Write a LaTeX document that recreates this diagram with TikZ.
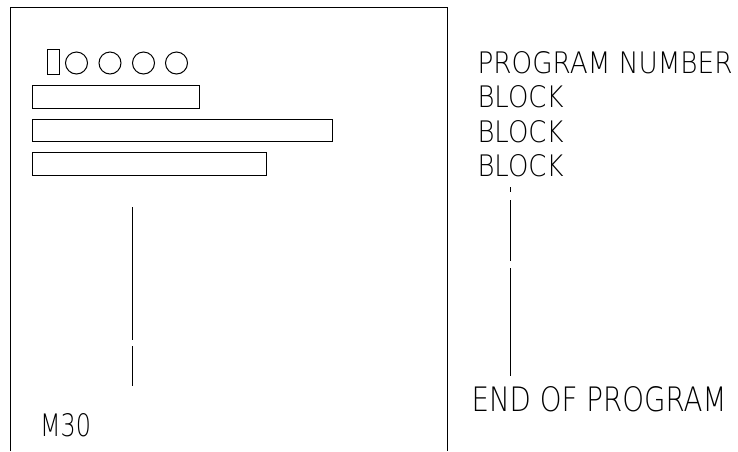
\documentclass[tikz,border=0pt]{standalone}
\usepackage{fontspec}
\newfontfamily\cad{DejaVu Sans ExtraLight}
\begin{document}
\begin{tikzpicture}[x=1pt,y=-1pt,line width=1pt,
  bar/.style={draw,rectangle,inner sep=0,anchor=north west},
  hole/.style={draw,circle,inner sep=0,minimum size=22pt},
  lbl/.style={inner sep=0,anchor=south west},
  seg/.style={line width=1pt}]
\useasboundingbox (0,0) rectangle (738,451);
% frame (open at the bottom)
\draw (10.5,451) -- (10.5,7.5) -- (447.5,7.5) -- (447.5,451);
% punched tape / program sheet
\node[bar,minimum width=12.5pt,minimum height=25pt] (tag) at (46.5,49) {};
\node[hole] (h1) at (76.5,63) {};
\node[hole] (h2) at (110,63) {};
\node[hole] (h3) at (143.5,63) {};
\node[hole] (h4) at (176.5,63) {};
\node[bar,minimum width=167pt,minimum height=23pt] (b1) at (31.5,85) {};
\node[bar,minimum width=300pt,minimum height=22pt] (b2) at (31.5,119) {};
\node[bar,minimum width=234pt,minimum height=22.5pt] (b3) at (31.5,152) {};
\coordinate (l1a) at (132,207); \coordinate (l1b) at (132,339.5);
\coordinate (l2a) at (132,346); \coordinate (l2b) at (132,386);
\draw[seg] (l1a) -- (l1b);
\draw[seg] (l2a) -- (l2b);
\node[lbl] (m30) at (39.5,437) {\resizebox{51pt}{23pt}{\cad M30}};
% right-hand legend
\node[lbl] (pn) at (477,74) {\resizebox{255pt}{22pt}{\cad PROGRAM NUMBER}};
\node[lbl] (bk1) at (477,108.5) {\resizebox{86pt}{22pt}{\cad BLOCK}};
\node[lbl] (bk2) at (477,143) {\resizebox{86pt}{22pt}{\cad BLOCK}};
\node[lbl] (bk3) at (477,177.5) {\resizebox{86pt}{22pt}{\cad BLOCK}};
\node[lbl] (end) at (471,412) {\resizebox{255pt}{25pt}{\cad END OF PROGRAM}};
\coordinate (r0a) at (510,187); \coordinate (r0b) at (510,192);
\coordinate (r1a) at (510,200); \coordinate (r1b) at (510,261);
\coordinate (r2a) at (510,268); \coordinate (r2b) at (510,376);
\draw[seg] (r0a) -- (r0b);
\draw[seg] (r1a) -- (r1b);
\draw[seg] (r2a) -- (r2b);
\end{tikzpicture}
\end{document}
